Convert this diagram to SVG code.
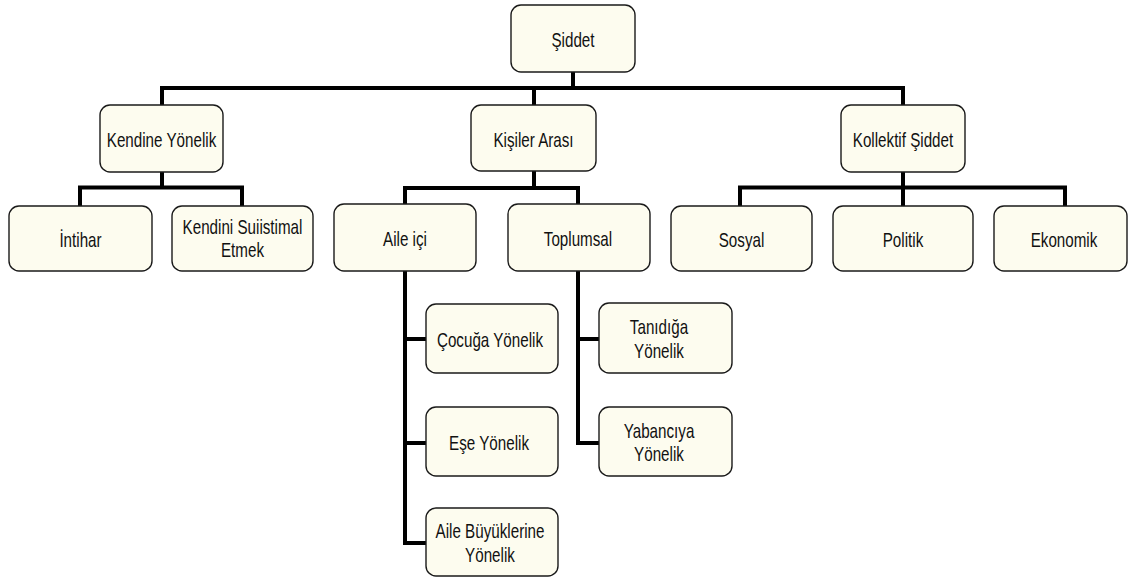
<svg xmlns="http://www.w3.org/2000/svg" width="1129" height="578" viewBox="0 0 1129 578">
<style>
.box{fill:#fdfcef;stroke:#1a1a1a;stroke-width:1.4}
.lbl{font-family:"Liberation Sans",Arial,sans-serif;font-size:20px;fill:#111;text-anchor:middle}
.con{fill:none;stroke:#000;stroke-width:4;stroke-linejoin:miter;stroke-linecap:butt}
</style>
<rect width="1129" height="578" fill="#fff"/>
<g id="connectors" class="con">
<path d="M573,72 V88 M160,88 H905 M162,88 V105 M534,88 V105 M903,88 V105"/>
<path d="M162,172 V187.5 M78,187.5 H244 M80,187.5 V206 M242,187.5 V206"/>
<path d="M534,171 V188 M403,188 H580 M405,188 V204 M578,188 V204"/>
<path d="M903,172 V187.5 M738,187.5 H1067 M740,187.5 V206 M903,187.5 V206 M1065,187.5 V206"/>
<path d="M405,271 V545 M405,339 H426 M405,443 H426 M403,543 H426"/>
<path d="M578,271 V443 M578,339 H599 M576,443 H599"/>
</g>
<g id="n-siddet"><rect class="box" x="511" y="5" width="124" height="67" rx="10"/><text class="lbl" transform="translate(573,47) scale(0.76,1)">Şiddet</text></g>
<g id="n-kendine"><rect class="box" x="100" y="105" width="123" height="67" rx="10"/><text class="lbl" transform="translate(161.5,146.5) scale(0.76,1)">Kendine Yönelik</text></g>
<g id="n-kisiler"><rect class="box" x="471" y="105" width="125" height="66" rx="10"/><text class="lbl" transform="translate(533.5,146.5) scale(0.76,1)">Kişiler Arası</text></g>
<g id="n-kollektif"><rect class="box" x="841" y="105" width="124" height="67" rx="10"/><text class="lbl" transform="translate(903,146.5) scale(0.76,1)">Kollektif Şiddet</text></g>
<g id="n-intihar"><rect class="box" x="9" y="206" width="143" height="65" rx="10"/><text class="lbl" transform="translate(80.5,246.5) scale(0.76,1)">İntihar</text></g>
<g id="n-suiistimal"><rect class="box" x="172" y="206" width="141" height="65" rx="10"/><text class="lbl" transform="translate(242.5,233.5) scale(0.76,1)"><tspan x="0" y="0">Kendini Suiistimal</tspan><tspan x="0" y="23.5">Etmek</tspan></text></g>
<g id="n-aile"><rect class="box" x="334" y="204" width="142" height="67" rx="10"/><text class="lbl" transform="translate(405,245.5) scale(0.76,1)">Aile içi</text></g>
<g id="n-toplumsal"><rect class="box" x="508" y="204" width="142" height="67" rx="10"/><text class="lbl" transform="translate(578,245.5) scale(0.76,1)">Toplumsal</text></g>
<g id="n-sosyal"><rect class="box" x="671" y="206" width="141" height="65" rx="10"/><text class="lbl" transform="translate(741.5,246.5) scale(0.76,1)">Sosyal</text></g>
<g id="n-politik"><rect class="box" x="833" y="206" width="140" height="65" rx="10"/><text class="lbl" transform="translate(903,246.5) scale(0.76,1)">Politik</text></g>
<g id="n-ekonomik"><rect class="box" x="994" y="206" width="133" height="65" rx="10"/><text class="lbl" transform="translate(1064,246.5) scale(0.76,1)">Ekonomik</text></g>
<g id="n-cocuga"><rect class="box" x="426" y="304" width="132" height="69" rx="10"/><text class="lbl" transform="translate(490,347) scale(0.76,1)">Çocuğa Yönelik</text></g>
<g id="n-ese"><rect class="box" x="426" y="407" width="132" height="69" rx="10"/><text class="lbl" transform="translate(489,450) scale(0.76,1)">Eşe Yönelik</text></g>
<g id="n-buyuk"><rect class="box" x="426" y="508" width="132" height="68" rx="10"/><text class="lbl" transform="translate(490,538) scale(0.76,1)"><tspan x="0" y="0">Aile Büyüklerine</tspan><tspan x="0" y="24.5">Yönelik</tspan></text></g>
<g id="n-tanidiga"><rect class="box" x="599" y="303" width="133" height="70" rx="10"/><text class="lbl" transform="translate(659,334) scale(0.76,1)"><tspan x="0" y="0">Tanıdığa</tspan><tspan x="0" y="24.5">Yönelik</tspan></text></g>
<g id="n-yabanciya"><rect class="box" x="599" y="407" width="133" height="69" rx="10"/><text class="lbl" transform="translate(659,437.5) scale(0.76,1)"><tspan x="0" y="0">Yabancıya</tspan><tspan x="0" y="24">Yönelik</tspan></text></g>
</svg>
